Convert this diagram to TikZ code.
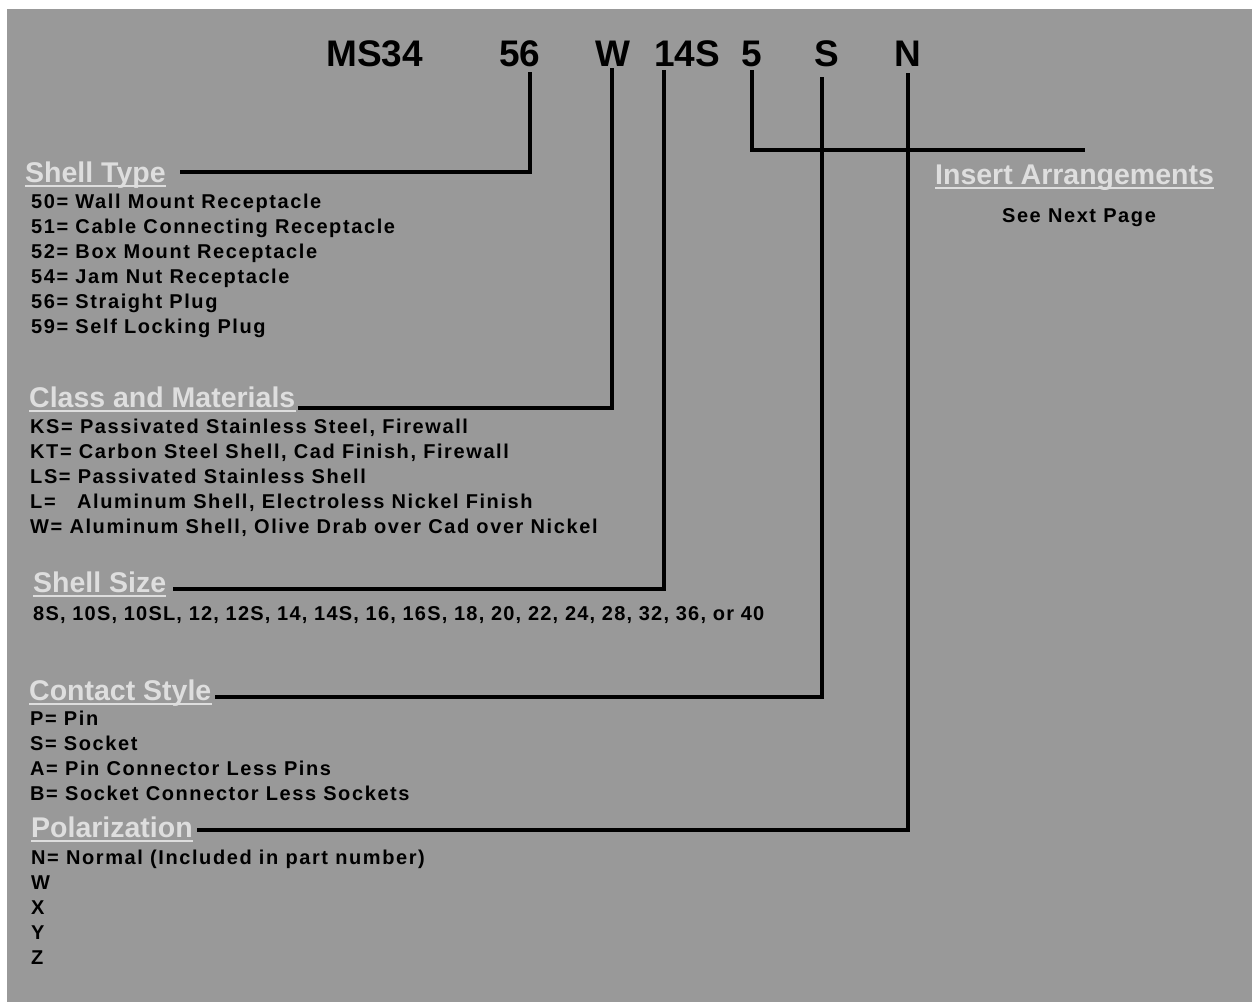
\documentclass[tikz,border=0pt]{standalone}
\usepackage{fontspec}
\setmainfont{Liberation Sans}
\newfontfamily\bodyf[LetterSpace=8]{Liberation Sans}
\newfontfamily\bodyn[LetterSpace=6]{Liberation Sans}
\usetikzlibrary{calc}
\definecolor{bgc}{RGB}{153,153,153}
\definecolor{headc}{RGB}{222,222,222}
\begin{document}
\begin{tikzpicture}[x=1pt,y=-1pt,
  titletxt/.style={font=\fontsize{37}{37}\selectfont\bfseries, anchor=base west, inner sep=0pt, text depth=0pt, text=black},
  head/.style={font=\fontsize{28.5}{28.5}\selectfont\bfseries, text=headc, anchor=base west, inner sep=0pt},
  body/.style={font=\bodyf\bfseries\fontsize{20}{25}\selectfont, anchor=base west, inner sep=0pt, text=black},
  conn/.style={line width=3.5pt, black},
  ul/.style={line width=1.6pt, headc}]
\useasboundingbox (0,0) rectangle (1252,1002);
\fill[bgc] (7,9) rectangle (1252,1002);

% title
\node[titletxt] (tMS) at (326,66) {MS34};
\node[titletxt] (t56) at (499,66) {56};
\node[titletxt] (tW)  at (595,66) {W};
\node[titletxt] (t14) at (654,66) {14S};
\node[titletxt] (t5)  at (741,66) {5};
\node[titletxt] (tS)  at (814,66) {S};
\node[titletxt] (tN)  at (894,66) {N};

\coordinate (x56) at (530,0);
\coordinate (xW)  at (612,0);
\coordinate (x14) at (664,0);
\coordinate (x5)  at (752,0);
\coordinate (xS)  at (822,0);
\coordinate (xN)  at (908,0);
\coordinate (e5)  at (1085,150);

% headers
\node[head] (hST)  at (25,182)  {Shell Type};
\node[head] (hCM)  at (29,407)  {Class and Materials};
\node[head] (hSS)  at (33,592)  {Shell Size};
\node[head] (hCS)  at (29,700)  {Contact Style};
\node[head] (hPol) at (31,837)  {Polarization};
\node[head] (hIA)  at (935,184) {Insert Arrangements};
\foreach \h in {hST,hCM,hSS,hCS,hPol,hIA}
  \draw[ul] ($(\h.base west)+(0,4)$) -- ($(\h.base east)+(0,4)$);

% body texts
\foreach \t [count=\i from 0] in {{50= Wall Mount Receptacle},{51= Cable Connecting Receptacle},{52= Box Mount Receptacle},{54= Jam Nut Receptacle},{56= Straight Plug},{59= Self Locking Plug}}
  \node[body] (st\i) at (31,208+25*\i) {\t};
\foreach \t [count=\i from 0] in {{KS= Passivated Stainless Steel, Firewall},{KT= Carbon Steel Shell, Cad Finish, Firewall},{LS= Passivated Stainless Shell},{L=\ \ \ Aluminum Shell, Electroless Nickel Finish},{W= Aluminum Shell, Olive Drab over Cad over Nickel}}
  \node[body] (cm\i) at (30,433+25*\i) {\t};
\node[body, font=\bodyn\bfseries\fontsize{20}{25}\selectfont] (ss0) at (33,620) {8S, 10S, 10SL, 12, 12S, 14, 14S, 16, 16S, 18, 20, 22, 24, 28, 32, 36, or 40};
\foreach \t [count=\i from 0] in {{P= Pin},{S= Socket},{A= Pin Connector Less Pins},{B= Socket Connector Less Sockets}}
  \node[body] (cs\i) at (30,725+25*\i) {\t};
\foreach \t [count=\i from 0] in {{N= Normal (Included in part number)},W,X,Y,Z}
  \node[body] (pl\i) at (31,864+25*\i) {\t};
\node[body, anchor=base] (sn) at (1079,222) {See Next Page};

% connectors
\draw[conn] ($(t56.south -| x56)+(0,6)$) |- ($(hST.base east)+(14,-10)$);
\draw[conn] ($(tW.south -| xW)+(0,2)$) |- ($(hCM.base east)+(2,1)$);
\draw[conn] ($(t14.south -| x14)+(0,4)$) |- ($(hSS.base east)+(7,-3)$);
\draw[conn] ($(t5.south -| x5)+(0,4)$) |- (e5);
\draw[conn] ($(tS.south -| xS)+(0,11)$) |- ($(hCS.base east)+(3,-3)$);
\draw[conn] ($(tN.south -| xN)+(0,7)$) |- ($(hPol.base east)+(4,-7)$);
\end{tikzpicture}
\end{document}
